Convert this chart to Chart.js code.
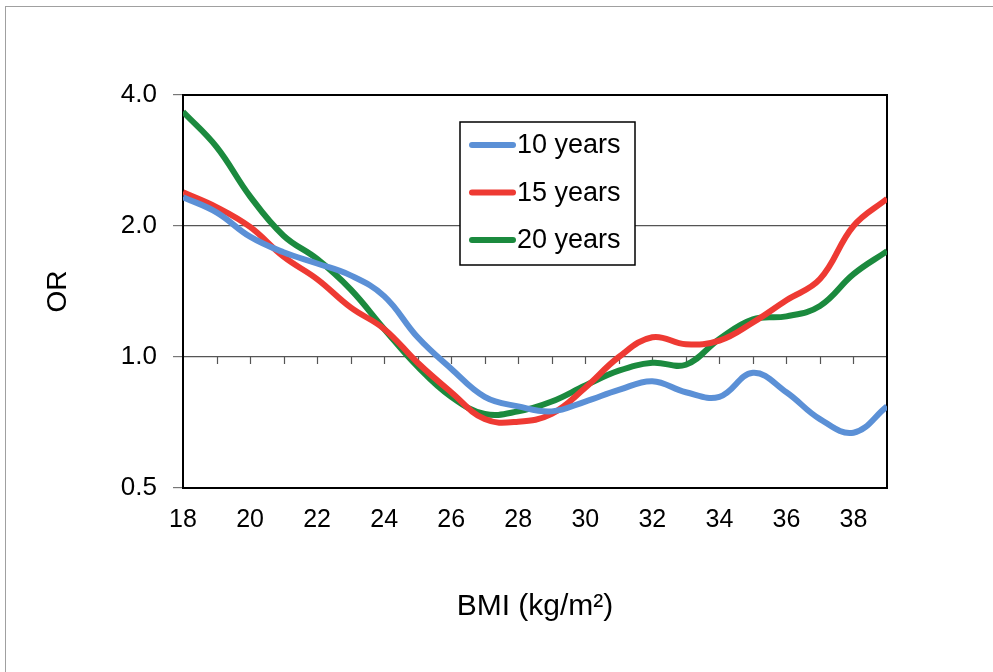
<!DOCTYPE html>
<html>
<head>
<meta charset="utf-8">
<script src="https://cdn.jsdelivr.net/npm/chart.js@4"></script>
<style>
  html, body { margin: 0; padding: 0; background: #fff; }
  #wrap { position: relative; width: 993px; height: 672px; overflow: hidden; }
  #frame { position: absolute; left: 5px; top: 6px; right: 0; bottom: 0;
           border-top: 1px solid #a0a0a0; border-left: 1px solid #a0a0a0; }
  canvas { position: absolute; left: 0; top: 0; }
</style>
</head>
<body>
<div id="wrap">
  <div id="frame"></div>
  <canvas id="orChart" width="993" height="672"></canvas>
</div>
<script>
var bmi  = [18, 19, 20, 21, 22, 23, 24, 25, 26, 27, 28, 29, 30, 31, 32, 33, 34, 35, 36, 37, 38, 39]
var or10 = [2.33, 2.15, 1.89, 1.74, 1.64, 1.54, 1.38, 1.11, 0.94, 0.81, 0.77, 0.75, 0.79, 0.84, 0.88, 0.83, 0.81, 0.92, 0.83, 0.72, 0.67, 0.77]
var or15 = [2.39, 2.21, 1.99, 1.70, 1.51, 1.30, 1.16, 0.97, 0.83, 0.72, 0.71, 0.74, 0.85, 1.00, 1.11, 1.07, 1.09, 1.20, 1.35, 1.51, 2.00, 2.31]
var or20 = [3.66, 3.04, 2.34, 1.90, 1.68, 1.43, 1.16, 0.95, 0.81, 0.74, 0.75, 0.79, 0.86, 0.93, 0.97, 0.96, 1.10, 1.22, 1.24, 1.31, 1.55, 1.75]
var seriesNames = ['10 years', '15 years', '20 years']
var seriesColors = ['#5b90d6', '#ee3a33', '#1b8a3e']
var yTicks = [0.5, 1, 2, 4]
var xTicks = [18, 20, 22, 24, 26, 28, 30, 32, 34, 36, 38]

var FONT = "'Liberation Sans', Arial, sans-serif"

function points(vals) {
  return bmi.map(function (b, i) { return { x: b, y: vals[i] } })
}

// plot frame plus the small tick marks that sit on the OR = 1 line
var frameAndTicks = {
  id: 'frameAndTicks',
  beforeDatasetsDraw: function (chart) {
    var ctx = chart.ctx, a = chart.chartArea
    var xs = chart.scales.x, ys = chart.scales.y
    var y1 = ys.getPixelForValue(1)
    ctx.save()
    ctx.strokeStyle = '#555'
    ctx.lineWidth = 1.2
    for (var v = bmi[0] + 1; v < bmi[bmi.length - 1]; v++) {
      var px = Math.round(xs.getPixelForValue(v)) + 0.5
      ctx.beginPath()
      ctx.moveTo(px, y1)
      ctx.lineTo(px, y1 + 7)
      ctx.stroke()
    }
    ctx.strokeStyle = '#000'
    ctx.lineWidth = 2
    ctx.strokeRect(a.left, a.top, a.right - a.left, a.bottom - a.top)
    ctx.restore()
  }
}

// boxed legend inside the plot
var boxLegend = {
  id: 'boxLegend',
  afterDatasetsDraw: function (chart) {
    var ctx = chart.ctx
    var bx = 460, by = 122, bw = 175, bh = 143
    ctx.save()
    ctx.fillStyle = '#fff'
    ctx.fillRect(bx, by, bw, bh)
    ctx.strokeStyle = '#000'
    ctx.lineWidth = 1.5
    ctx.strokeRect(bx, by, bw, bh)
    ctx.font = '27px ' + FONT
    ctx.textBaseline = 'middle'
    ctx.lineCap = 'round'
    chart.data.datasets.forEach(function (ds, i) {
      var ly = by + 23 + i * 47.5
      ctx.strokeStyle = ds.borderColor
      ctx.lineWidth = 6
      ctx.beginPath()
      ctx.moveTo(bx + 12, ly)
      ctx.lineTo(bx + 53, ly)
      ctx.stroke()
      ctx.fillStyle = '#000'
      ctx.fillText(ds.label, bx + 57, ly + 1)
    })
    ctx.restore()
  }
}

var datasets = [or10, or15, or20].map(function (vals, i) {
  return {
    label: seriesNames[i],
    data: points(vals),
    borderColor: seriesColors[i],
    backgroundColor: seriesColors[i],
    borderWidth: 6,
    pointRadius: 0,
    tension: 0.4,
    fill: false
  }
})

new Chart(document.getElementById('orChart').getContext('2d'), {
  type: 'line',
  data: { datasets: datasets },
  plugins: [frameAndTicks, boxLegend],
  options: {
    responsive: false,
    animation: false,
    layout: { padding: { left: 30, right: 106, top: 95, bottom: 40 } },
    plugins: {
      legend: { display: false },
      tooltip: { enabled: false }
    },
    scales: {
      x: {
        type: 'linear',
        min: 18,
        max: 39,
        afterBuildTicks: function (scale) {
          scale.ticks = xTicks.map(function (v) { return { value: v } })
        },
        afterFit: function (scale) { scale.height = 144 },
        grid: { display: false, drawTicks: false },
        border: { display: true, color: '#000', width: 2 },
        ticks: {
          padding: 17,
          color: '#000',
          maxRotation: 0,
          autoSkip: false,
          font: { family: FONT, size: 25 }
        },
        title: {
          display: true,
          text: 'BMI (kg/m²)',
          color: '#000',
          padding: { top: 4, bottom: 7 },
          font: { family: FONT, size: 30 }
        }
      },
      y: {
        type: 'logarithmic',
        min: 0.5,
        max: 4,
        afterBuildTicks: function (scale) {
          scale.ticks = yTicks.map(function (v) { return { value: v } })
        },
        afterFit: function (scale) { scale.width = 153 },
        grid: {
          color: function (c) {
            return c.tick && (c.tick.value === 1 || c.tick.value === 2) ? '#555' : 'rgba(0,0,0,0)'
          },
          tickColor: '#777',
          tickLength: 10,
          lineWidth: 1.2
        },
        border: { display: true, color: '#000', width: 2 },
        ticks: {
          padding: 16,
          color: '#000',
          autoSkip: false,
          font: { family: FONT, size: 26 },
          callback: function (v) { return Number(v).toFixed(1) }
        },
        title: {
          display: true,
          text: 'OR',
          color: '#000',
          padding: { top: 11, bottom: 4 },
          font: { family: FONT, size: 28 }
        }
      }
    }
  }
})
</script>
</body>
</html>
